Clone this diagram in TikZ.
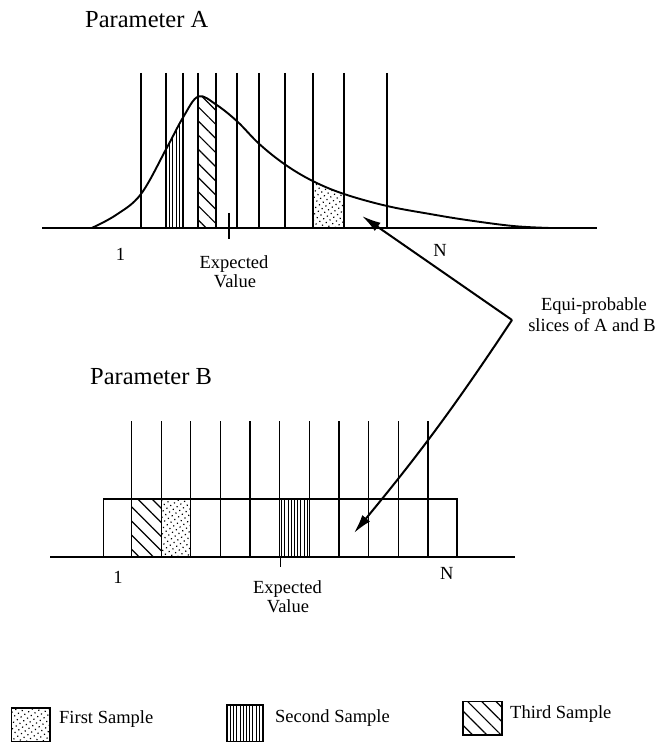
\documentclass[tikz,border=0pt]{standalone}
\usepackage{fontspec}
\setmainfont{Liberation Serif}
\usetikzlibrary{patterns.meta,arrows.meta}
\begin{document}
\begin{tikzpicture}[x=1pt,y=-1pt,
  lbl/.style={inner sep=0pt,anchor=base,font=\fontsize{18.5}{20}\selectfont},
  legtext/.style={inner sep=0pt,anchor=base west,font=\fontsize{18.5}{20}\selectfont},
  title/.style={inner sep=0pt,anchor=base west,font=\fontsize{24.5}{26}\selectfont},
  axisline/.style={line width=2.6pt},
  slice/.style={line width=1.3pt},
  dotfill/.style={pattern={Dots[distance=4.6pt,angle=35,radius=0.85pt]}},
  vfill/.style={pattern={Lines[angle=90,distance=3.2pt,line width=0.9pt]}},
  dfill/.style={pattern={Lines[angle=-45,distance=10pt,line width=1.2pt]}},
  pointer/.style={line width=2pt,-{Latex[length=19pt,width=10pt]}},
  legbox/.style={draw,line width=1.5pt}]

\useasboundingbox (0,0) rectangle (657,743);

% ---------------- Parameter A ----------------
\node[title] (titleA) at (85,28) {Parameter A};

\begin{scope}
  \clip plot[smooth,tension=0.6] coordinates {(91.7,228) (116,215) (141,194) (166.7,148) (183.3,117) (198.3,96.5) (216,104.5) (237.3,121.5) (259.3,144) (285,164.5) (312.7,181) (344,194) (387,206) (430,214) (466.7,220) (513,226) (550,228)} -- cycle;
  \fill[vfill] (166,60) rectangle (183,230);
  \fill[dfill] (198,60) rectangle (216,230);
  \fill[dotfill] (313,60) rectangle (344,230);
\end{scope}

\foreach \x in {141,166,183,198,216,237,259,285,313,344,387}
  \draw[slice] (\x,73) -- (\x,228);

\draw[line width=1.9pt] plot[smooth,tension=0.6] coordinates {(91.7,228) (116,215) (141,194) (166.7,148) (183.3,117) (198.3,96.5) (216,104.5) (237.3,121.5) (259.3,144) (285,164.5) (312.7,181) (344,194) (387,206) (430,214) (466.7,220) (513,226) (550,228)};

\draw[axisline] (42,228) -- (597,228);
\draw[line width=1.2pt] (229,213) -- (229,239);

\node[lbl] (oneA) at (120.5,260) {1};
\node[lbl] (nA) at (440,256) {N};
\node[lbl] (expA) at (234,268) {Expected};
\node[lbl] (valA) at (235,287) {Value};

% ---------------- Parameter B ----------------
\node[title] (titleB) at (90,384) {Parameter B};

\fill[dfill] (131.5,499) rectangle (161.2,557);
\fill[dotfill] (161.2,499) rectangle (190.8,557);
\fill[vfill] (279.8,499) rectangle (309.4,557);
\draw[line width=1.4pt] (103.5,499) rectangle (457,557);
\foreach \i in {0,...,10}
  \draw[slice] ({131.5+29.65*\i},421) -- ({131.5+29.65*\i},557);

\draw[axisline] (50,557) -- (515,557);
\draw[line width=1.2pt] (280.5,557) -- (280.5,567);

\node[lbl] (oneB) at (118,583) {1};
\node[lbl] (nB) at (446.7,579) {N};
\node[lbl] (expB) at (287.5,593) {Expected};
\node[lbl] (valB) at (288,612) {Value};

% ---------------- pointers ----------------
\coordinate (v) at (512,320);
\coordinate (tipA) at (362,216);
\coordinate (tipB) at (354,533);
\draw[pointer] (v) -- (tipA);
\draw[pointer] (v) to[bend left=3] (tipB);

\node[lbl] (eq1) at (594,310) {Equi-probable};
\node[lbl] (eq2) at (592,331.5) {slices of A and B};

% ---------------- legend ----------------
\draw[legbox,dotfill] (11.7,708) rectangle (50,741.5);
\node[legtext] (leg1) at (59,723.3) {First Sample};
\draw[legbox,vfill] (226.7,705) rectangle (263.3,741.5);
\node[legtext] (leg2) at (275,722) {Second Sample};
\draw[legbox,dfill] (463,701.7) rectangle (502,735);
\node[legtext] (leg3) at (510,718) {Third Sample};
\end{tikzpicture}
\end{document}
